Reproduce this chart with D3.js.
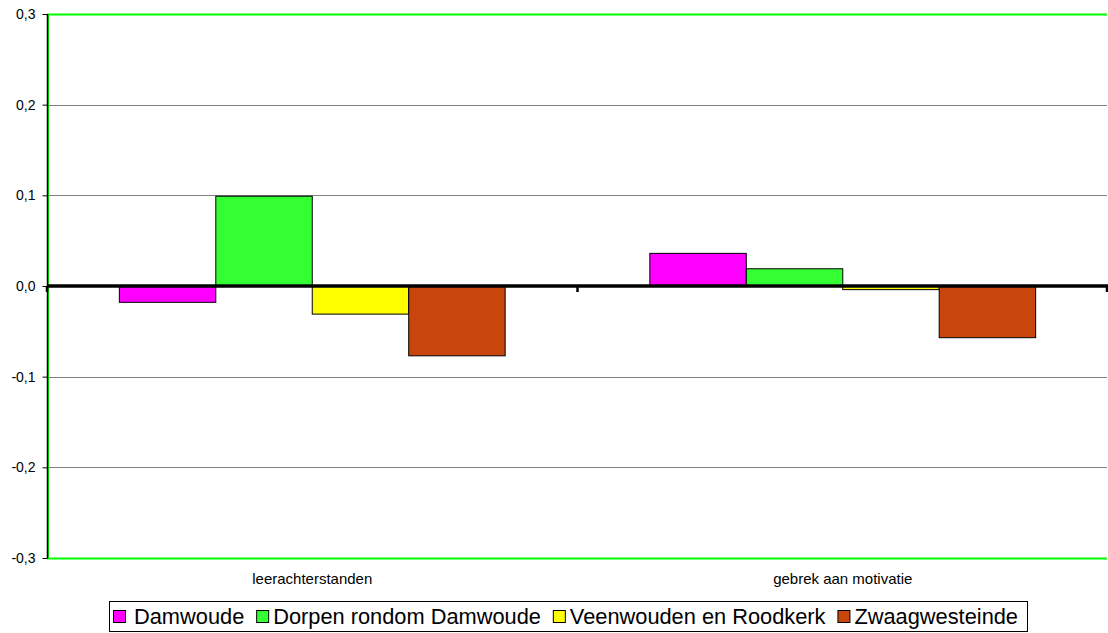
<!DOCTYPE html>
<html><head><meta charset="utf-8">
<script src="https://cdn.jsdelivr.net/npm/d3@7"></script>
<style>body{margin:0;background:#fff}svg{display:block;font-family:"Liberation Sans",Arial,sans-serif}</style>
</head><body><svg id="c" width="1108" height="633"></svg>
<script>
const categories = ["leerachterstanden", "gebrek aan motivatie"];
const seriesNames = ["Damwoude", "Dorpen rondom Damwoude", "Veenwouden en Roodkerk", "Zwaagwesteinde"];
const seriesColors = ["#ff00ff", "#33ff33", "#ffff00", "#c8460c"];
const damwoude = [-0.018, 0.036];
const dorpen = [0.099, 0.019];
const veenwouden = [-0.031, -0.004];
const zwaag = [-0.077, -0.057];
const seriesValues = [damwoude, dorpen, veenwouden, zwaag];
const yTicks = [-0.3, -0.2, -0.1, 0, 0.1, 0.2, 0.3];

const svg = d3.select("#c");
const L = 47, R = 1108, T = 14, B = 558;
const x = d3.scaleBand().domain(categories).range([L, R]).paddingInner(0).paddingOuter(0);
const xs = d3.scaleBand().domain(d3.range(seriesNames.length)).range([0, x.bandwidth()]).paddingInner(0).paddingOuter(0.75);
const y = d3.scaleLinear().domain([-0.3, 0.3]).range([B, T]);

// gridlines
svg.append("g").selectAll("line").data(yTicks.filter(d => d !== 0 && Math.abs(d) < 0.3)).join("line")
  .attr("x1", L).attr("x2", R - 1).attr("y1", d => Math.round(y(d)) + 0.5).attr("y2", d => Math.round(y(d)) + 0.5)
  .attr("stroke", "#808080").attr("stroke-width", 1.2);
// green borders top & bottom & left
svg.append("line").attr("x1", L).attr("x2", R - 1).attr("y1", T + 0.5).attr("y2", T + 0.5).attr("stroke", "#00ff00").attr("stroke-width", 1.8);
svg.append("line").attr("x1", L).attr("x2", R - 1).attr("y1", B + 0.5).attr("y2", B + 0.5).attr("stroke", "#00ff00").attr("stroke-width", 1.8);
svg.append("line").attr("x1", L + 1.5).attr("x2", L + 1.5).attr("y1", T).attr("y2", B).attr("stroke", "#00ff00").attr("stroke-width", 1);

// bars
const g = svg.append("g");
seriesValues.forEach((vals, si) => {
  g.selectAll(null).data(vals).join("rect")
    .attr("x", (d, i) => x(categories[i]) + xs(si))
    .attr("width", xs.bandwidth())
    .attr("y", d => y(Math.max(0, d)))
    .attr("height", d => Math.abs(y(d) - y(0)))
    .attr("fill", seriesColors[si]).attr("stroke", "#000").attr("stroke-width", 1);
});

// y axis
const yAxis = d3.axisLeft(y).tickValues(yTicks).tickSize(5).tickFormat(d => d3.format(".1f")(d).replace(".", ",").replace("−", "-"));
const ya = svg.append("g").attr("transform", `translate(${L + 0.5},0)`).call(yAxis);
ya.select(".domain").attr("stroke", "#000").attr("stroke-width", 1.5).attr("d", `M0,${T}V${B}`);
ya.selectAll(".tick line").attr("stroke", "#000");
ya.selectAll(".tick text").attr("font-size", 14).attr("fill", "#000").attr("font-family", "Liberation Sans, Arial, sans-serif").attr("x", -12);

// zero axis
svg.append("line").attr("x1", L).attr("x2", R).attr("y1", y(0)).attr("y2", y(0)).attr("stroke", "#000").attr("stroke-width", 3.5);
// category ticks on zero line
const bounds = [L, x(categories[1]), R - 1];
svg.append("g").selectAll("line").data(bounds).join("line")
  .attr("x1", d => d).attr("x2", d => d).attr("y1", y(0)).attr("y2", y(0) + 6)
  .attr("stroke", "#000").attr("stroke-width", 2.5);

// category labels
svg.append("g").selectAll("text").data(categories).join("text")
  .attr("x", d => x(d) + x.bandwidth() / 2).attr("y", 584).attr("text-anchor", "middle")
  .attr("font-size", 15).attr("fill", "#000").text(d => d);

// legend: box fixed, items spread to fill it
const lg = svg.append("g");
const lx0 = 109, lx1 = 1027, ly0 = 601, lh = 30;
lg.append("rect").attr("x", lx0 + 0.5).attr("y", ly0 + 0.5).attr("width", lx1 - lx0).attr("height", lh).attr("fill", "#fff").attr("stroke", "#000").attr("stroke-width", 1);
const texts = seriesNames.map((n, i) => lg.append("text").attr("y", ly0 + 23).attr("font-size", 21.8).attr("fill", "#000").text(n));
const widths = texts.map(t => t.node().getComputedTextLength());
const swW = 12, swGap = 5, firstGap = 9;
const startX = 113, endX = 1018;
const natural = widths.reduce((a, b) => a + b, 0) + seriesNames.length * (swW + swGap) + (firstGap - swGap);
const gap = (endX - startX - natural) / (seriesNames.length - 1);
let cx = startX;
seriesNames.forEach((n, i) => {
  lg.append("rect").attr("x", cx + 0.5).attr("y", ly0 + 9.5).attr("width", swW).attr("height", swW).attr("fill", seriesColors[i]).attr("stroke", "#000");
  const tx = cx + swW + (i === 0 ? firstGap : swGap);
  texts[i].attr("x", tx);
  cx = tx + widths[i] + gap;
});
</script></body></html>
